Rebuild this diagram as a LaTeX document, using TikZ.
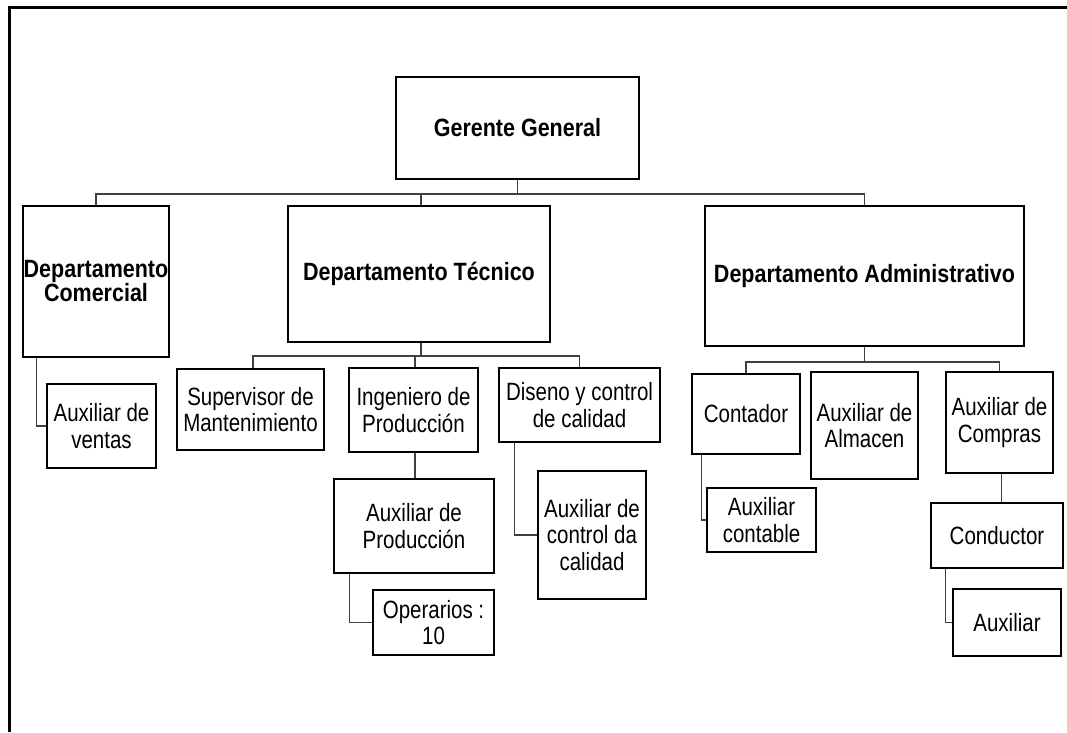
\documentclass[tikz,border=0pt]{standalone}
\usepackage{fontspec}
\setmainfont{Liberation Sans}[FakeStretch=0.82]
\newfontfamily\headfont{Liberation Sans}[FakeStretch=0.86]
\begin{document}
\begin{tikzpicture}[x=1pt,y=-1pt,
  box/.style={draw=black, line width=2.8pt, inner sep=0pt, align=center,
              font=\fontsize{25}{26.5}\selectfont},
  head/.style={box, font=\headfont\bfseries\fontsize{25}{24}\selectfont},
  link/.style={draw=black!75, line width=1.4pt},
  frame/.style={draw=black, line width=2.6pt}]
\fill[white] (0,0) rectangle (1067,732);
\useasboundingbox (0,0) rectangle (1067,732);

% page frame (open at right and bottom)
\draw[frame] (9.5,732) -- (9.5,7.2) -- (1067,7.2);

% top level
\node[head, minimum width=243pt, minimum height=102pt] (gg) at (517.5,128) {Gerente General};

% departments
\node[head, minimum width=146pt, minimum height=151pt] (com) at (96,281.5) {Departamento\\Comercial};
\node[head, minimum width=262pt, minimum height=136pt] (tec) at (419,274) {Departamento T\'ecnico};
\node[head, minimum width=319pt, minimum height=140pt] (adm) at (864.5,276) {Departamento Administrativo};

% sales
\node[box, minimum width=109pt, minimum height=84pt] (ven) at (101.5,426) {Auxiliar de\\ventas};

% technical
\node[box, minimum width=147pt, minimum height=81pt] (sup) at (250.5,409.5) {Supervisor de\\Mantenimiento};
\node[box, minimum width=129pt, minimum height=84pt] (ing) at (413.5,410) {Ingeniero de\\Producci\'on};
\node[box, minimum width=161pt, minimum height=74pt] (dis) at (579.5,405) {Diseno y control\\de calidad};
\node[box, minimum width=160pt, minimum height=94pt] (axp) at (414,526) {Auxiliar de\\Producci\'on};
\node[box, minimum width=121pt, minimum height=65pt] (ope) at (433.5,622.5) {Operarios :\\10};
\node[box, minimum width=108pt, minimum height=128pt] (axc) at (592,535) {Auxiliar de\\control da\\calidad};

% administration
\node[box, minimum width=108pt, minimum height=80pt] (con) at (746,414) {Contador};
\node[box, minimum width=107pt, minimum height=107pt] (alm) at (864.5,425.5) {Auxiliar de\\Almacen};
\node[box, minimum width=107pt, minimum height=101pt] (cmp) at (999.5,422.5) {Auxiliar de\\Compras};
\node[box, minimum width=109pt, minimum height=64pt] (aco) at (761.5,520) {Auxiliar\\contable};
\node[box, minimum width=132pt, minimum height=65pt] (cnd) at (997,535.5) {Conductor};
\node[box, minimum width=108pt, minimum height=67pt] (aux) at (1007,622.5) {Auxiliar};

% bus levels
\coordinate (b0) at (0,194);
\coordinate (b1) at (0,356);
\coordinate (b2) at (0,362);

% connectors: general manager to departments
\draw[link] (gg.south) -- (gg.south |- b0);
\draw[link] (com.north) -- (com.north |- b0) -- (adm.north |- b0) -- (adm.north);
\draw[link] ([xshift=2pt]tec.north) -- ([xshift=2pt]tec.north |- b0);

% sales branch
\draw[link] ([xshift=15pt]com.south west) |- (ven.west);

% technical branch
\draw[link] ([xshift=2pt]tec.south) -- ([xshift=2pt]tec.south |- b1);
\draw[link] ([xshift=2.5pt]sup.north) -- ([xshift=2.5pt]sup.north |- b1) -- (dis.north |- b1) -- (dis.north);
\draw[link] ([xshift=1.5pt]ing.north) -- ([xshift=1.5pt]ing.north |- b1);
\draw[link] ([xshift=1.5pt]ing.south) -- ([xshift=1.5pt]ing.south |- axp.north);
\draw[link] ([xshift=17pt]axp.south west) |- (ope.west);
\draw[link] ([xshift=17pt]dis.south west) |- (axc.west);

% administrative branch
\draw[link] (adm.south) -- (adm.south |- b2);
\draw[link] (con.north) -- (con.north |- b2) -- (cmp.north |- b2) -- (cmp.north);
\draw[link] ([xshift=11pt]con.south west) |- (aco.west);
\draw[link] ([xshift=2pt]cmp.south) -- ([xshift=2pt]cmp.south |- cnd.north);
\draw[link] ([xshift=16pt]cnd.south west) |- (aux.west);
\end{tikzpicture}
\end{document}
